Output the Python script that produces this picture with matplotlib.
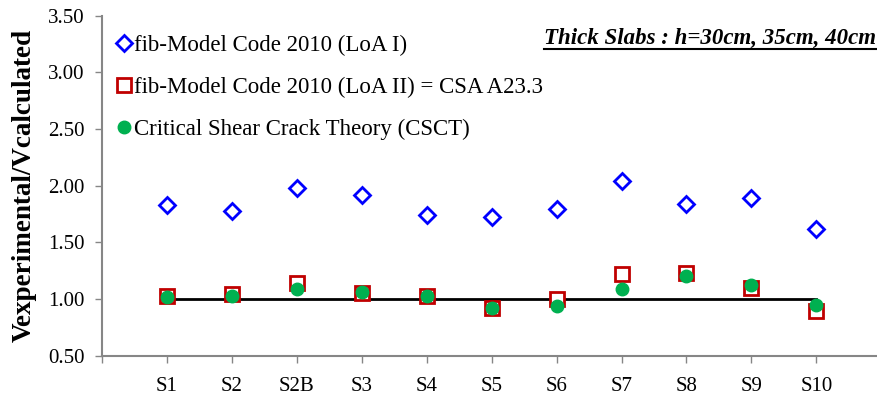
import matplotlib.pyplot as plt
import numpy as np

plt.rcParams['font.family'] = ['Liberation Serif', 'DejaVu Serif']

# данные
slabs = ['S1', 'S2', 'S2B', 'S3', 'S4', 'S5', 'S6', 'S7', 'S8', 'S9', 'S10']
mc2010_loa1 = [1.83, 1.78, 1.98, 1.92, 1.74, 1.72, 1.79, 2.04, 1.84, 1.89, 1.62]
mc2010_loa2 = [1.03, 1.04, 1.14, 1.05, 1.03, 0.92, 1.00, 1.22, 1.23, 1.10, 0.89]
csct = [1.02, 1.03, 1.09, 1.06, 1.03, 0.92, 0.94, 1.09, 1.20, 1.12, 0.95]
ref_level = [1.0, 1.0]

yticks = [0.5, 1.0, 1.5, 2.0, 2.5, 3.0, 3.5]


def main():
    fig = plt.figure(figsize=(8.78, 4.01), dpi=100)
    ax = fig.add_axes([0.1162, 0.113, 0.8838, 0.8483])

    x = np.arange(len(slabs))

    # линия Vexp/Vcalc = 1
    ax.plot([x[0], x[-1]], ref_level, color='black', lw=2, zorder=1)

    ax.plot(x, mc2010_loa1, 'D', ms=8.5, mfc='white', mec='#0000ff', mew=2,
            ls='none', label='fib-Model Code 2010 (LoA I)', zorder=3)
    ax.plot(x, mc2010_loa2, 's', ms=10.5, mfc='white', mec='#c00000', mew=2,
            ls='none', label='fib-Model Code 2010 (LoA II) = CSA A23.3', zorder=3)
    ax.plot(x, csct, 'o', ms=9, color='#00b050', ls='none',
            label='Critical Shear Crack Theory (CSCT)', zorder=4)

    ax.set_xlim(-1, 10.95)
    ax.set_ylim(0.5, 3.5)
    ax.set_yticks(yticks)
    ax.set_yticklabels(['%.2f' % v for v in yticks])
    ax.set_xticks(np.arange(-1, len(slabs)))
    ax.set_xticklabels([''] + slabs)

    for s in ['top', 'right']:
        ax.spines[s].set_visible(False)
    for s in ['left', 'bottom']:
        ax.spines[s].set_color('#868686')
        ax.spines[s].set_linewidth(1.5)
    ax.tick_params(axis='both', colors='#868686', length=5, width=1, labelsize=15,
                   labelcolor='black')
    ax.tick_params(axis='x', pad=10.5)
    ax.tick_params(axis='y', pad=7.5)

    ax.set_ylabel('Vexperimental/Vcalculated', fontsize=19.5, fontweight='bold',
                  labelpad=8)

    ax.legend(loc='upper left', bbox_to_anchor=(0.0, 0.984), frameon=False,
              fontsize=16.5, handlelength=0.7, handletextpad=0.1,
              labelspacing=0.92, borderaxespad=0.3, borderpad=0.3)

    t = fig.text(0.998, 0.903, 'Thick Slabs : h=30cm, 35cm, 40cm', ha='right',
                 va='center', fontsize=16.5, fontweight='bold', style='italic')
    fig.canvas.draw()
    bb = t.get_window_extent().transformed(fig.transFigure.inverted())
    fig.add_artist(plt.Line2D([bb.x0, bb.x1], [bb.y0 + 0.002, bb.y0 + 0.002],
                              transform=fig.transFigure, color='black', lw=1.5))

    fig.savefig('out.png', dpi=100)


if __name__ == '__main__':
    main()
